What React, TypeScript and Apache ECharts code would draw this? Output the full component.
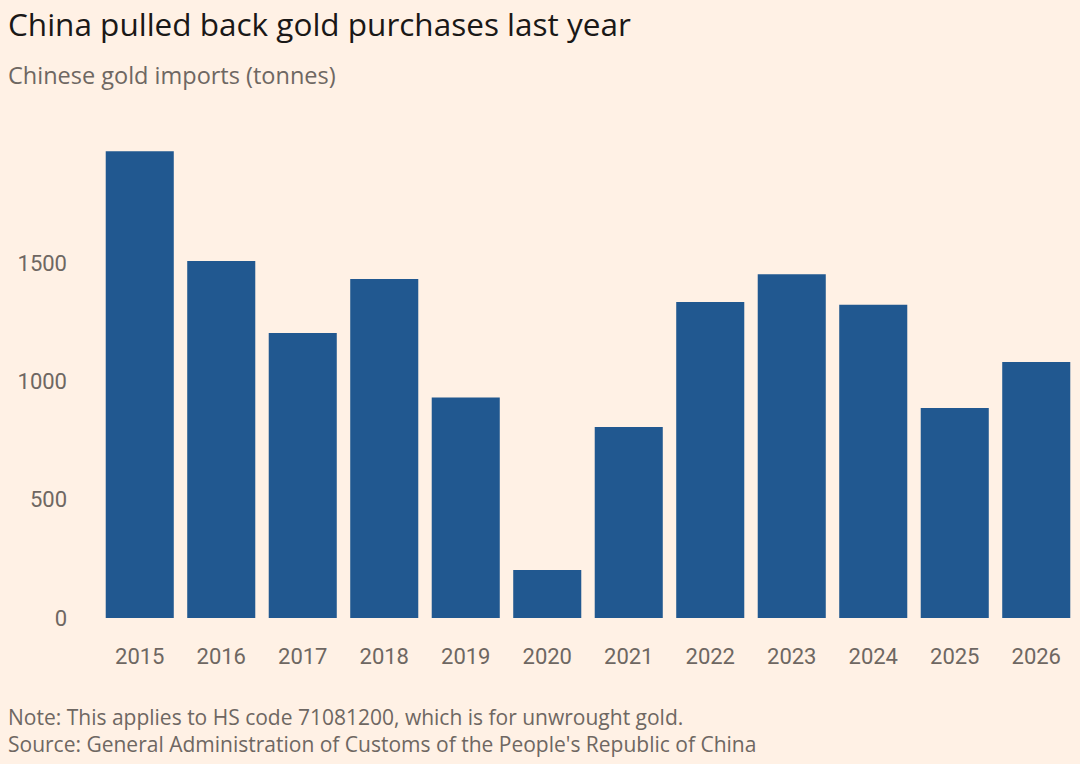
import React, { useEffect, useRef } from "react";
import * as echarts from "echarts";

const years = ["2015", "2016", "2017", "2018", "2019", "2020", "2021", "2022", "2023", "2024", "2025", "2026"];
const importsTonnes = [1974, 1510, 1205, 1433, 932, 203, 808, 1336, 1454, 1325, 888, 1082];
const yMin = 0;
const yMax = 2000;
const yInterval = 500;

const titleText = "China pulled back gold purchases last year";
const subtitleText = "Chinese gold imports (tonnes)";
const noteText = "Note: This applies to HS code 71081200, which is for unwrought gold.";
const sourceText = "Source: General Administration of Customs of the People's Republic of China";

const FONT = "Roboto, 'Noto Sans', sans-serif";
const TFONT = "'Open Sans', 'Noto Sans', sans-serif";
const BG = "#FFF1E5";
const GREY = "#6E6762";

export default function App() {
  const ref = useRef<HTMLDivElement>(null);
  useEffect(() => {
    if (!ref.current) return;
    const chart = echarts.init(ref.current, undefined, { renderer: "svg" });
    chart.setOption({
      animation: false,
      backgroundColor: BG,
      textStyle: { fontFamily: FONT },
      grid: { left: 99, right: 3, top: 145, bottom: 146, containLabel: false },
      xAxis: {
        type: "category",
        data: years,
        axisLine: { show: false },
        axisTick: { show: false },
        axisLabel: { color: GREY, fontSize: 22, fontFamily: FONT, margin: 27 },
      },
      yAxis: {
        type: "value",
        min: yMin,
        max: yMax,
        interval: yInterval,
        splitLine: { show: false },
        axisLine: { show: false },
        axisTick: { show: false },
        axisLabel: {
          color: GREY,
          fontSize: 22,
          fontFamily: FONT,
          margin: 32,
          showMaxLabel: false,
          formatter: (v: number) => String(v),
        },
      },
      series: [
        {
          type: "bar",
          data: importsTonnes,
          barCategoryGap: "16.5%",
          itemStyle: { color: "#215890" },
        },
      ],
      graphic: [
        { type: "text", left: 8, top: 7, style: { text: titleText, fill: "#1A1817", font: `31.5px ${TFONT}` } },
        { type: "text", left: 8, top: 63, style: { text: subtitleText, fill: GREY, font: `23.5px ${TFONT}` } },
        { type: "text", left: 8, top: 706, style: { text: noteText, fill: GREY, font: `21px ${TFONT}` } },
        { type: "text", left: 8, top: 733, style: { text: sourceText, fill: GREY, font: `21px ${TFONT}` } },
      ],
    });
    return () => chart.dispose();
  }, []);
  return (
    <div style={{ position: "absolute", left: 0, top: 0, width: 1080, height: 764, background: BG }}>
      <div ref={ref} style={{ width: 1080, height: 764 }} />
    </div>
  );
}
